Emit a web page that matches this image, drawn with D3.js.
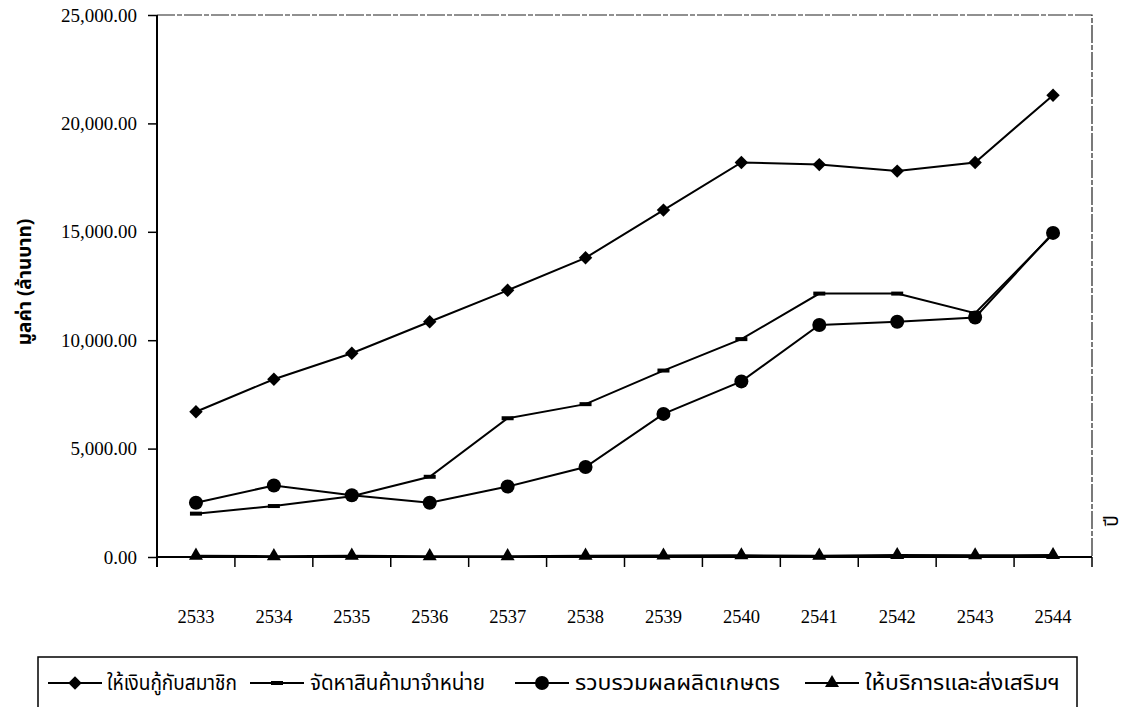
<!DOCTYPE html>
<html lang="th">
  <head>
    <meta charset="UTF-8" />
    <title>มูลค่าธุรกิจ 2533-2544</title>
    <script src="https://d3js.org/d3.v7.min.js"></script>
    <style>
      body { margin: 0; background: #fff; }
      .tick-label { font-family: "Liberation Serif", "Times New Roman", serif; fill: #000; }
      .thai { font-family: "Noto Sans Thai", "Loma", "Garuda", "Norasi", "Noto Sans", sans-serif; fill: #000; }
    </style>
  </head>
  <body>
    <svg id="chart" width="1128" height="707"></svg>
    <script>
      const years = ["2533", "2534", "2535", "2536", "2537", "2538", "2539", "2540", "2541", "2542", "2543", "2544"];
      const loans = [6700, 8200, 9400, 10850, 12300, 13800, 16000, 18200, 18100, 17800, 18200, 21300];
      const supply = [2000, 2350, 2800, 3700, 6400, 7050, 8600, 10050, 12150, 12150, 11250, 14900];
      const collect = [2500, 3300, 2850, 2500, 3250, 4150, 6600, 8100, 10700, 10850, 11050, 14950];
      const service = [60, 40, 60, 40, 40, 60, 70, 80, 60, 90, 80, 90];
      const seriesNames = ["ให้เงินกู้กับสมาชิก", "จัดหาสินค้ามาจำหน่าย", "รวบรวมผลผลิตเกษตร", "ให้บริการและส่งเสริมฯ"];
      const yTicks = [0, 5000, 10000, 15000, 20000, 25000];

      const series = [
        { name: seriesNames[0], values: loans, marker: "diamond" },
        { name: seriesNames[1], values: supply, marker: "dash" },
        { name: seriesNames[2], values: collect, marker: "circle" },
        { name: seriesNames[3], values: service, marker: "triangle" }
      ];

      const plotL = 157, plotR = 1092, plotT = 15, plotB = 557;
      const svg = d3.select("#chart");

      const x = d3.scaleBand().domain(years).range([plotL, plotR]);
      const y = d3.scaleLinear().domain([0, 25000]).range([plotB, plotT]);

      // plot frame (top and right are broken lines in the scan)
      svg.append("path")
        .attr("d", `M${plotL},${plotT}H${plotR}V${plotB}`)
        .attr("fill", "none")
        .attr("stroke", "#222")
        .attr("stroke-width", 1.2)
        .attr("stroke-dasharray", "18,2,5,2");

      // y axis
      const yAxis = svg.append("g")
        .attr("transform", `translate(${plotL},0)`)
        .call(d3.axisLeft(y).tickValues(yTicks).tickSize(9).tickPadding(11)
          .tickFormat(d3.format(",.2f")));
      yAxis.select(".domain").attr("stroke", "#000").attr("stroke-width", 2)
        .attr("d", `M0,${plotT}V${plotB + 10}`);
      yAxis.selectAll(".tick line").attr("stroke", "#000").attr("stroke-width", 1.5);
      yAxis.selectAll(".tick text").attr("class", "tick-label").style("font-size", "19px");

      // x axis: ticks on category boundaries, labels far below
      const xAxis = svg.append("g").attr("transform", `translate(0,${plotB})`);
      xAxis.append("line").attr("x1", plotL).attr("x2", plotR)
        .attr("stroke", "#000").attr("stroke-width", 2);
      xAxis.selectAll(".xtick").data(years.concat(["end"])).enter().append("line")
        .attr("x1", (d, i) => plotL + i * x.step()).attr("x2", (d, i) => plotL + i * x.step())
        .attr("y1", 0).attr("y2", 10)
        .attr("stroke", "#000").attr("stroke-width", 1.5);
      xAxis.selectAll(".xlab").data(years).enter().append("text")
        .attr("class", "tick-label")
        .attr("x", d => x(d) + x.bandwidth() / 2)
        .attr("y", 66)
        .attr("text-anchor", "middle")
        .style("font-size", "18.5px")
        .text(d => d);

      // axis titles
      svg.append("text").attr("class", "thai")
        .attr("transform", "translate(31,282) rotate(-90)")
        .attr("text-anchor", "middle")
        .style("font-size", "19px").style("font-weight", "bold")
        .text("มูลค่า (ล้านบาท)");
      svg.append("text").attr("class", "thai")
        .attr("transform", "translate(1118,521) rotate(-90)")
        .attr("text-anchor", "middle")
        .style("font-size", "19px")
        .text("ปี");

      function drawMarker(g, type) {
        if (type === "diamond") g.append("path").attr("d", d3.symbol(d3.symbolDiamond2, 115)());
        if (type === "circle") g.append("circle").attr("r", 7);
        if (type === "triangle") g.append("path").attr("d", d3.symbol(d3.symbolTriangle, 85)());
        if (type === "dash") g.append("rect").attr("x", -6).attr("y", -2).attr("width", 12).attr("height", 4);
      }

      const line = d3.line().x((d, i) => x(years[i]) + x.bandwidth() / 2).y(d => y(d));

      series.forEach(s => {
        svg.append("path").datum(s.values)
          .attr("d", line)
          .attr("fill", "none")
          .attr("stroke", "#000")
          .attr("stroke-width", 2);
        s.values.forEach((v, i) => {
          const g = svg.append("g")
            .attr("transform", `translate(${x(years[i]) + x.bandwidth() / 2},${y(v)})`)
            .attr("fill", "#000");
          drawMarker(g, s.marker);
        });
      });

      // legend (box runs past the bottom of the page)
      const legendY = 683;
      svg.append("rect")
        .attr("x", 38).attr("y", 657).attr("width", 1039).attr("height", 80)
        .attr("fill", "none").attr("stroke", "#000").attr("stroke-width", 1.5);
      const legendItems = [
        { sym: 48, symW: 54, text: 107, textW: 130 },
        { sym: 250, symW: 54, text: 310, textW: 175 },
        { sym: 515, symW: 54, text: 575, textW: 205 },
        { sym: 805, symW: 54, text: 865, textW: 195 }
      ];
      series.forEach((s, i) => {
        const it = legendItems[i];
        svg.append("line")
          .attr("x1", it.sym).attr("x2", it.sym + it.symW)
          .attr("y1", legendY).attr("y2", legendY)
          .attr("stroke", "#000").attr("stroke-width", 2);
        const g = svg.append("g")
          .attr("transform", `translate(${it.sym + it.symW / 2},${legendY})`)
          .attr("fill", "#000");
        drawMarker(g, s.marker);
        svg.append("text").attr("class", "thai")
          .attr("x", it.text).attr("y", legendY + 7)
          .attr("textLength", it.textW).attr("lengthAdjust", "spacingAndGlyphs")
          .style("font-size", "21px")
          .text(s.name);
      });
    </script>
  </body>
</html>
